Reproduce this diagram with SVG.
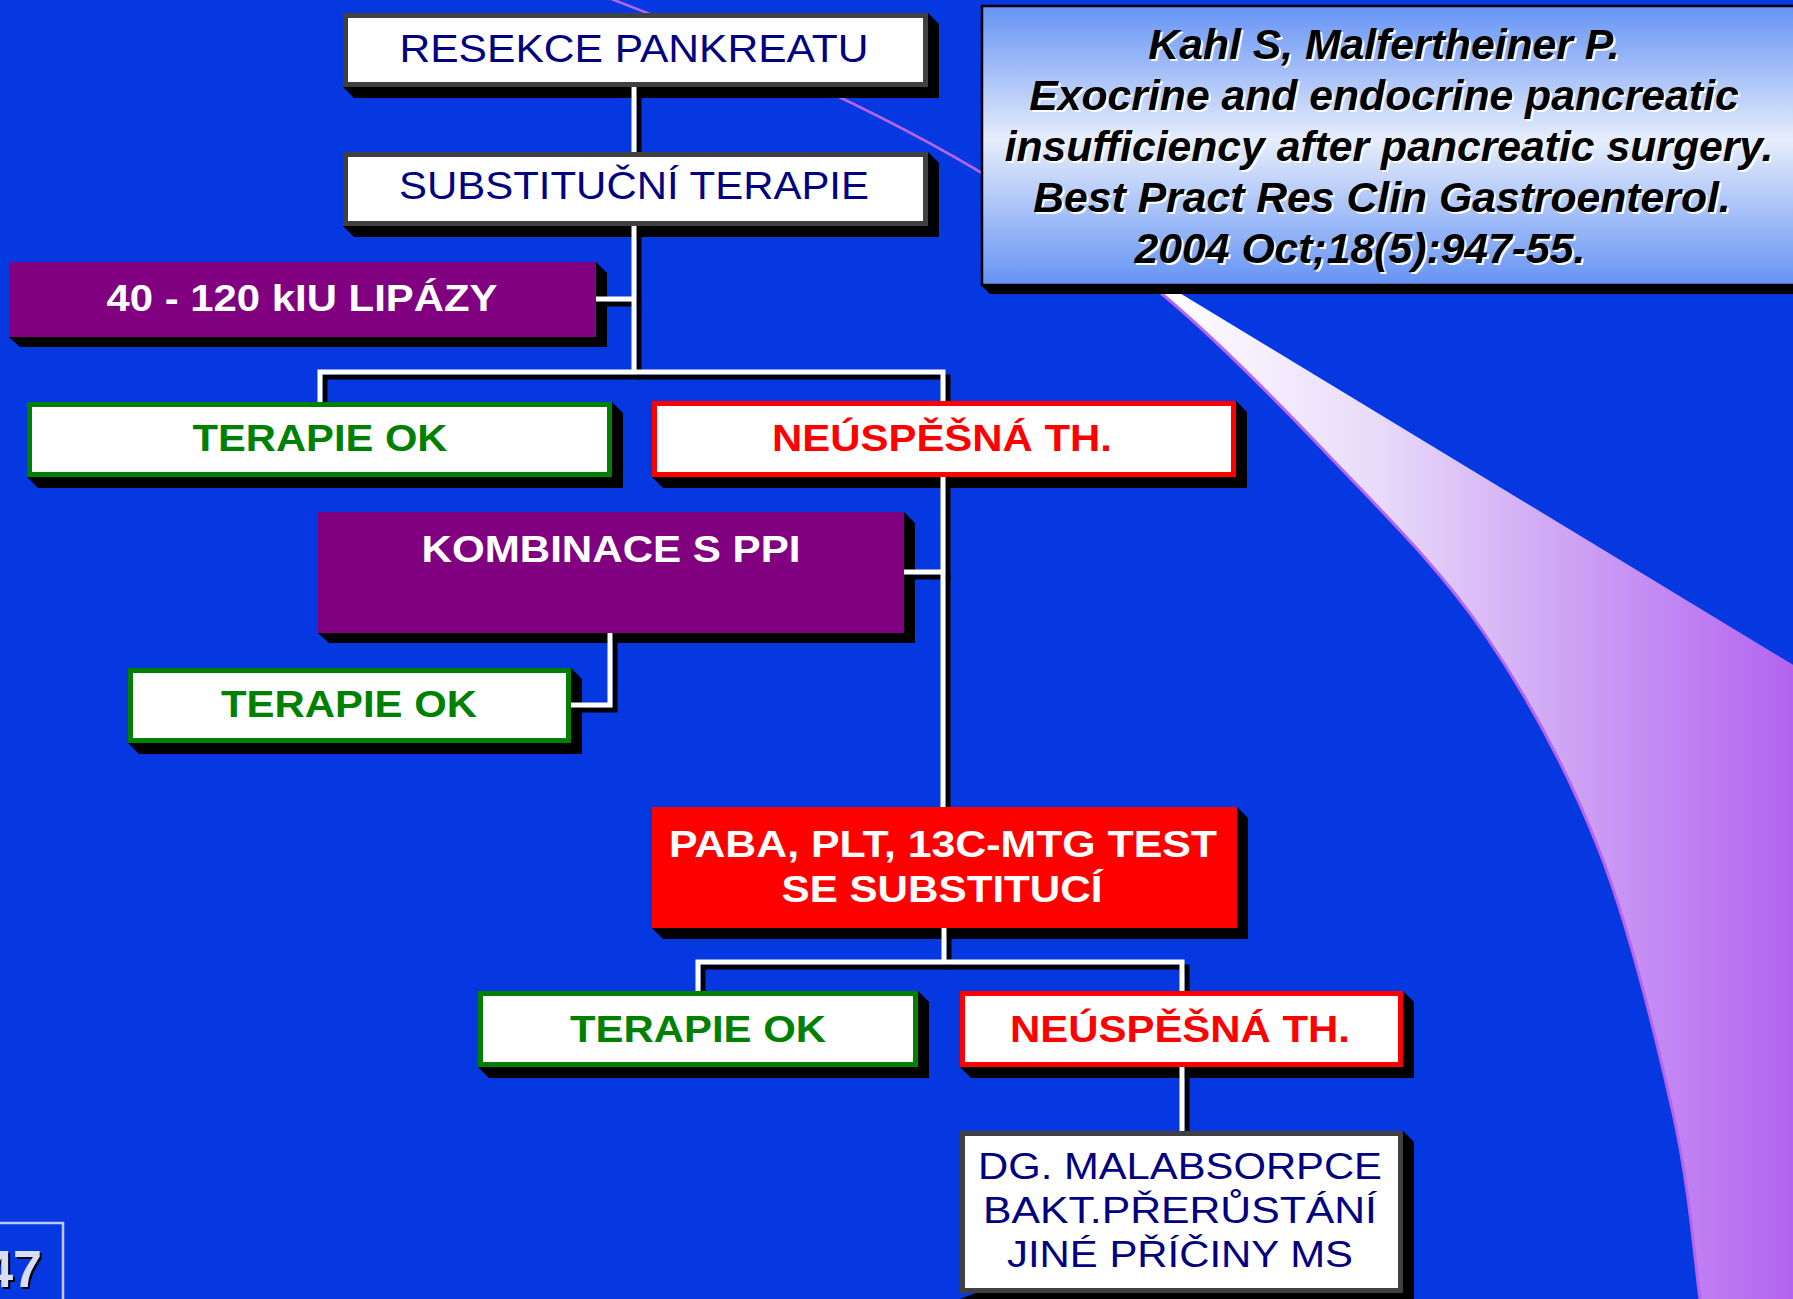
<svg xmlns="http://www.w3.org/2000/svg" width="1793" height="1299" viewBox="0 0 1793 1299">
<defs>
<linearGradient id="swoosh" gradientUnits="userSpaceOnUse" x1="1160" y1="0" x2="1793" y2="0">
<stop offset="0" stop-color="#FFFFFF"/>
<stop offset="0.35" stop-color="#E8DAFA"/>
<stop offset="0.65" stop-color="#CDA2F4"/>
<stop offset="1" stop-color="#B463F0"/>
</linearGradient>
<linearGradient id="refgrad" x1="0" y1="0" x2="0" y2="1">
<stop offset="0" stop-color="#6593F4"/>
<stop offset="0.48" stop-color="#E6EDFC"/>
<stop offset="1" stop-color="#6593F4"/>
</linearGradient>
<style>
.shadow{fill:#000000}
.wbox{fill:#FFFFFF;stroke-width:5}
.gray{stroke:#404040}
.green{stroke:#008000}
.red{stroke:#FF0000}
.pbox{fill:#800080}
.rbox{fill:#FF0000}
.t{font-family:"Liberation Sans",Arial,sans-serif;text-anchor:middle}
.navy{fill:#000080;font-size:38px}
.navys{fill:#000080;font-size:36px}
.wb{fill:#FFFFFF;font-size:36px;font-weight:bold}
.gb{fill:#008000;font-size:36px;font-weight:bold}
.rb{fill:#FF0000;font-size:36px;font-weight:bold}
.ref{font-family:"Liberation Sans",Arial,sans-serif;font-size:42.7px;font-weight:bold;font-style:italic;text-anchor:middle}
.lsh{fill:none;stroke:#000000;stroke-width:5;stroke-linejoin:miter;stroke-linecap:square}
.lw{fill:none;stroke:#FFFFFF;stroke-width:5;stroke-linejoin:miter;stroke-linecap:butt}
</style>
</defs>
<rect x="0" y="0" width="1793" height="1299" fill="#0638E2"/>
<g id="swoosh-decoration">
<path d="M 606,-3 C 720,40 880,110 995,181" fill="none" stroke="#B565F0" stroke-width="2.5"/>
<path d="M 990,178 L 1800,669 L 1800,1320 L 1703,1320 L 1700,1299 C 1695,1264.5 1689.8,1187.8 1673,1113 C 1656.2,1038.2 1630.5,930 1599,850 C 1567.5,770 1528.8,698.5 1484,633 C 1439.2,567.5 1383.7,513.5 1330,457 C 1276.3,400.5 1217,339.7 1162,294 C 1107,248.3 1027,201.5 1000,183 Z" fill="url(#swoosh)"/>
<path d="M 1000,183 C 1027,201.5 1107,248.3 1162,294 C 1217,339.7 1276.3,400.5 1330,457 C 1383.7,513.5 1439.2,567.5 1484,633 C 1528.8,698.5 1567.5,770 1599,850 C 1630.5,930 1656.2,1038.2 1673,1113 C 1689.8,1187.8 1695,1264.5 1700,1299 L 1703,1320" fill="none" stroke="#B565F0" stroke-width="3"/>
</g>
<g id="node-shadows">
<polygon class="shadow" points="928,13 939,24 939,98 354,98 343,87"/>
<polygon class="shadow" points="928,152 939,163 939,237 354,237 343,226"/>
<polygon class="shadow" points="596,262 607,273 607,347 20,347 9,337"/>
<polygon class="shadow" points="612,402 623,413 623,488 38,488 27,477"/>
<polygon class="shadow" points="1236,401 1247,412 1247,488 663,488 652,477"/>
<polygon class="shadow" points="904,512 915,523 915,643 329,643 318,633"/>
<polygon class="shadow" points="571,668 582,679 582,754 139,754 128,743"/>
<polygon class="shadow" points="1237,807 1248,818 1248,939 663,939 652,928"/>
<polygon class="shadow" points="918,991 929,1002 929,1078 489,1078 478,1067"/>
<polygon class="shadow" points="1403,991 1414,1002 1414,1078 971,1078 960,1067"/>
<polygon class="shadow" points="1403,1131 1414,1142 1414,1310 971,1310 960,1299"/>
</g>
<g id="connectors">
<g transform="translate(5,5)">
<path class="lsh" d="M 634,87 L 634,152"/>
<path class="lsh" d="M 634,226 L 634,372"/>
<path class="lsh" d="M 596,299 L 634,299"/>
<path class="lsh" d="M 320,402 L 320,372 L 943,372 L 943,401"/>
<path class="lsh" d="M 943,477 L 943,807"/>
<path class="lsh" d="M 904,572 L 943,572"/>
<path class="lsh" d="M 610,633 L 610,705 L 571,705"/>
<path class="lsh" d="M 944,928 L 944,962"/>
<path class="lsh" d="M 698,991 L 698,962 L 1182,962 L 1182,991"/>
<path class="lsh" d="M 1182,1067 L 1182,1131"/>
</g>
<path class="lw" d="M 634,87 L 634,152"/>
<path class="lw" d="M 634,226 L 634,372"/>
<path class="lw" d="M 596,299 L 634,299"/>
<path class="lw" d="M 320,402 L 320,372 L 943,372 L 943,401"/>
<path class="lw" d="M 943,477 L 943,807"/>
<path class="lw" d="M 904,572 L 943,572"/>
<path class="lw" d="M 610,633 L 610,705 L 571,705"/>
<path class="lw" d="M 944,928 L 944,962"/>
<path class="lw" d="M 698,991 L 698,962 L 1182,962 L 1182,991"/>
<path class="lw" d="M 1182,1067 L 1182,1131"/>
</g>
<g id="node-resekce">
<rect class="wbox gray" x="345.5" y="15.5" width="580" height="69"/>
<text class="t navy" x="634" y="62" textLength="469" lengthAdjust="spacingAndGlyphs">RESEKCE PANKREATU</text>
</g>
<g id="node-substitucni">
<rect class="wbox gray" x="345.5" y="154.5" width="580" height="69"/>
<text class="t navy" x="634" y="199" textLength="470" lengthAdjust="spacingAndGlyphs">SUBSTITUČNÍ TERAPIE</text>
</g>
<g id="node-lipazy">
<rect class="pbox" x="9" y="262" width="587" height="75"/>
<text class="t wb" x="302" y="311" textLength="391" lengthAdjust="spacingAndGlyphs">40 - 120 kIU LIPÁZY</text>
</g>
<g id="node-terapie-ok-1">
<rect class="wbox green" x="29.5" y="404.5" width="580" height="70"/>
<text class="t gb" x="320" y="451" textLength="255" lengthAdjust="spacingAndGlyphs">TERAPIE OK</text>
</g>
<g id="node-neuspesna-1">
<rect class="wbox red" x="654.5" y="403.5" width="579" height="71"/>
<text class="t rb" x="942" y="451" textLength="340" lengthAdjust="spacingAndGlyphs">NEÚSPĚŠNÁ TH.</text>
</g>
<g id="node-kombinace">
<rect class="pbox" x="318" y="512" width="586" height="121"/>
<text class="t wb" x="611" y="562" textLength="379" lengthAdjust="spacingAndGlyphs">KOMBINACE S PPI</text>
</g>
<g id="node-terapie-ok-2">
<rect class="wbox green" x="130.5" y="670.5" width="438" height="70"/>
<text class="t gb" x="349" y="717" textLength="256" lengthAdjust="spacingAndGlyphs">TERAPIE OK</text>
</g>
<g id="node-paba">
<rect class="rbox" x="652" y="807" width="585" height="121"/>
<text class="t wb" x="943" y="857" textLength="548" lengthAdjust="spacingAndGlyphs">PABA, PLT, 13C-MTG TEST</text>
<text class="t wb" x="942" y="902" textLength="321" lengthAdjust="spacingAndGlyphs">SE SUBSTITUCÍ</text>
</g>
<g id="node-terapie-ok-3">
<rect class="wbox green" x="480.5" y="993.5" width="435" height="71"/>
<text class="t gb" x="698" y="1042" textLength="256" lengthAdjust="spacingAndGlyphs">TERAPIE OK</text>
</g>
<g id="node-neuspesna-2">
<rect class="wbox red" x="962.5" y="993.5" width="438" height="71"/>
<text class="t rb" x="1180" y="1042" textLength="340" lengthAdjust="spacingAndGlyphs">NEÚSPĚŠNÁ TH.</text>
</g>
<g id="node-dg">
<rect class="wbox gray" x="962.5" y="1133.5" width="438" height="157"/>
<text class="t navys" x="1180" y="1179" textLength="404" lengthAdjust="spacingAndGlyphs">DG. MALABSORPCE</text>
<text class="t navys" x="1180" y="1223" textLength="394" lengthAdjust="spacingAndGlyphs">BAKT.PŘERŮSTÁNÍ</text>
<text class="t navys" x="1180" y="1267" textLength="346" lengthAdjust="spacingAndGlyphs">JINÉ PŘÍČINY MS</text>
</g>
<g id="node-reference">
<polygon class="shadow" points="981,285 990,294 1800,294 1800,285"/>
<rect x="982" y="6" width="830" height="279" fill="url(#refgrad)" stroke="#000000" stroke-width="2.5"/>
<g class="ref" fill="#FFFFFF" transform="translate(2,2)">
<text x="1384" y="59">Kahl S, Malfertheiner P.</text>
<text x="1384" y="110">Exocrine and endocrine pancreatic</text>
<text x="1389" y="161">insufficiency after pancreatic surgery.</text>
<text x="1382" y="212">Best Pract Res Clin Gastroenterol.</text>
<text x="1360" y="263">2004 Oct;18(5):947-55.</text>
</g>
<g class="ref" fill="#000000">
<text x="1384" y="59">Kahl S, Malfertheiner P.</text>
<text x="1384" y="110">Exocrine and endocrine pancreatic</text>
<text x="1389" y="161">insufficiency after pancreatic surgery.</text>
<text x="1382" y="212">Best Pract Res Clin Gastroenterol.</text>
<text x="1360" y="263">2004 Oct;18(5):947-55.</text>
</g>
</g>
<g id="page-number">
<rect x="-10" y="1223" width="73" height="100" fill="none" stroke="#C0C8F8" stroke-width="2.5"/>
<text x="44" y="1289" font-family="'Liberation Sans',Arial,sans-serif" font-size="52" font-weight="bold" text-anchor="end" fill="#000000">47</text>
<text x="42" y="1287" font-family="'Liberation Sans',Arial,sans-serif" font-size="52" font-weight="bold" text-anchor="end" fill="#D8DEFA">47</text>
</g>
</svg>
